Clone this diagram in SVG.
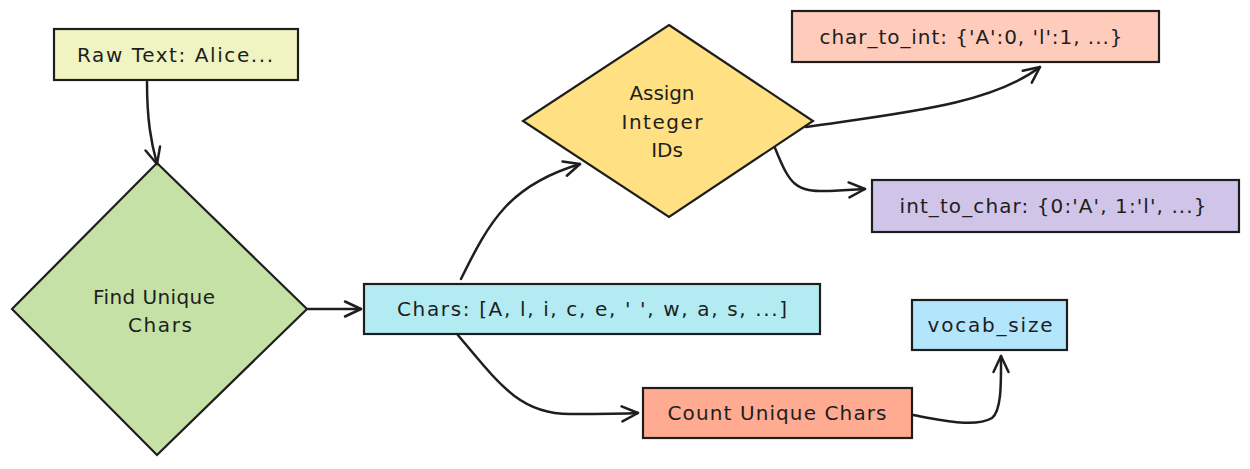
<svg xmlns="http://www.w3.org/2000/svg" width="1250" height="469" viewBox="0 0 1250 469">
<style>
.box{stroke:#1e1e1e;stroke-width:2.2;}
.lbl{font-family:"DejaVu Sans","Liberation Sans",Arial,sans-serif;font-size:20px;fill:#1e1e1e;text-anchor:middle;dominant-baseline:central;}
.edge{fill:none;stroke:#1e1e1e;stroke-width:2.5;stroke-linecap:round;}
</style>
<defs>
<marker id="arr" markerUnits="userSpaceOnUse" markerWidth="30" markerHeight="30" refX="0" refY="0" viewBox="-20 -15 30 30" orient="auto">
<path d="M-16,-7.5 L0,0 L-16,7.5" fill="none" stroke="#1e1e1e" stroke-width="2.5" stroke-linecap="round" stroke-linejoin="round"/>
</marker>
</defs>
<rect width="1250" height="469" fill="#ffffff"/>
<g id="raw-text">
<rect class="box" x="54" y="29" width="244" height="51" fill="#f0f4c3"/>
<text class="lbl" x="175" y="55" textLength="196" lengthAdjust="spacing">Raw Text: Alice...</text>
</g>
<g id="find-unique">
<polygon class="box" points="157,163 307,309 157,455 12,309" fill="#c5e1a5"/>
<text class="lbl" x="154" y="297" textLength="122" lengthAdjust="spacing">Find Unique</text>
<text class="lbl" x="160" y="325" textLength="64" lengthAdjust="spacing">Chars</text>
</g>
<g id="chars">
<rect class="box" x="364" y="284" width="456" height="50" fill="#b2ebf2"/>
<text class="lbl" x="592" y="309" textLength="390" lengthAdjust="spacing">Chars: [A, l, i, c, e, ' ', w, a, s, ...]</text>
</g>
<g id="assign">
<polygon class="box" points="669,25 813,121 669,217 523,121" fill="#ffe082"/>
<text class="lbl" x="662" y="93" textLength="65" lengthAdjust="spacing">Assign</text>
<text class="lbl" x="662" y="122" textLength="81" lengthAdjust="spacing">Integer</text>
<text class="lbl" x="667" y="150">IDs</text>
</g>
<g id="char-to-int">
<rect class="box" x="792" y="11" width="367" height="51" fill="#ffccbc"/>
<text class="lbl" x="971" y="37" textLength="303" lengthAdjust="spacing">char_to_int: {'A':0, 'l':1, ...}</text>
</g>
<g id="int-to-char">
<rect class="box" x="872" y="180" width="367" height="52" fill="#d1c4e9"/>
<text class="lbl" x="1053" y="206" textLength="307" lengthAdjust="spacing">int_to_char: {0:'A', 1:'l', ...}</text>
</g>
<g id="count">
<rect class="box" x="643" y="388" width="269" height="50" fill="#ffab91"/>
<text class="lbl" x="777" y="413" textLength="219" lengthAdjust="spacing">Count Unique Chars</text>
</g>
<g id="vocab">
<rect class="box" x="912" y="300" width="155" height="50" fill="#b3e5fc"/>
<text class="lbl" x="990" y="325" textLength="125" lengthAdjust="spacing">vocab_size</text>
</g>
<g id="connectors">
<path class="edge" d="M147,82 C147,120 151,142 157,164" marker-end="url(#arr)"/>
<path class="edge" d="M308,309 L361,309" marker-end="url(#arr)"/>
<path class="edge" d="M461,279 C490,220 510,185 580,164" marker-end="url(#arr)"/>
<path class="edge" d="M806,127 C900,113 990,105 1040,67" marker-end="url(#arr)"/>
<path class="edge" d="M775,148 C790,185 795,192 830,191 L865,189" marker-end="url(#arr)"/>
<path class="edge" d="M457,334 C500,385 520,414 570,414 C600,414 620,414 638,413" marker-end="url(#arr)"/>
<path class="edge" d="M913,415 C940,420 975,428 992,418 C1002,410 1001,380 1001,356" marker-end="url(#arr)"/>
</g>
</svg>
